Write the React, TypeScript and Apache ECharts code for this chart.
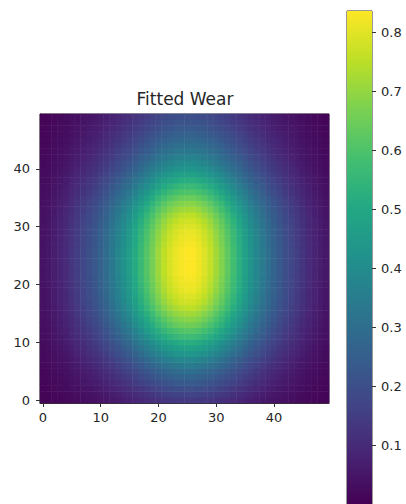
import { useEffect, useRef } from "react";
import * as echarts from "echarts";

// Fitted wear surface: separable profile along x (columns) and y (rows), scaled by the peak wear.
const X_PROFILE = [
  0.05, 0.06, 0.08, 0.1, 0.12, 0.15, 0.18, 0.21, 0.24, 0.27,
  0.31, 0.35, 0.4, 0.45, 0.5, 0.55, 0.61, 0.67, 0.73, 0.79,
  0.85, 0.9, 0.94, 0.97, 0.99, 1.0, 1.0, 0.98, 0.95, 0.91,
  0.86, 0.81, 0.75, 0.69, 0.63, 0.57, 0.51, 0.46, 0.41, 0.36,
  0.32, 0.28, 0.24, 0.21, 0.18, 0.15, 0.12, 0.1, 0.08, 0.06,
];

const Y_PROFILE = [
  0.17, 0.2, 0.24, 0.28, 0.32, 0.36, 0.41, 0.46, 0.52, 0.57,
  0.62, 0.68, 0.73, 0.78, 0.82, 0.86, 0.9, 0.93, 0.95, 0.97,
  0.98, 0.99, 1.0, 1.0, 1.0, 1.0, 1.0, 0.99, 0.98, 0.97,
  0.95, 0.93, 0.9, 0.86, 0.82, 0.77, 0.72, 0.67, 0.62, 0.57,
  0.52, 0.48, 0.44, 0.4, 0.37, 0.34, 0.31, 0.28, 0.26, 0.24,
];

const PEAK_WEAR = 0.836;

const X_CATEGORIES = X_PROFILE.map((_, i) => String(i));
const Y_CATEGORIES = Y_PROFILE.map((_, i) => String(i));

const COLORBAR_TICKS = [0.1, 0.2, 0.3, 0.4, 0.5, 0.6, 0.7, 0.8];

const VIRIDIS = [
  "#440154", "#482475", "#414487", "#355f8d", "#2a788e", "#21918c",
  "#22a884", "#44bf70", "#7ad151", "#bddf26", "#fde725",
];

const FONT = "DejaVu Sans";
const TEXT_COLOR = "#262626";
const LINE_COLOR = "#333333";

export default function App() {
  const ref = useRef<HTMLDivElement>(null);

  useEffect(() => {
    if (!ref.current) return;
    const chart = echarts.init(ref.current, null, { renderer: "svg" });

    const cells: [number, number, number][] = [];
    Y_PROFILE.forEach((fy, yi) => {
      X_PROFILE.forEach((fx, xi) => {
        cells.push([xi, yi, +(PEAK_WEAR * fx * fy).toFixed(4)]);
      });
    });

    const gradientStops = VIRIDIS.map((color, i) => ({
      offset: i / (VIRIDIS.length - 1),
      color,
    }));

    const tickLabel = { color: TEXT_COLOR, fontFamily: FONT, fontSize: 13 };

    chart.setOption({
      animation: false,
      backgroundColor: "#ffffff",
      graphic: [
        {
          type: "text",
          x: 185,
          y: 99,
          style: {
            text: "Fitted Wear",
            fill: TEXT_COLOR,
            font: `17px "${FONT}"`,
            textAlign: "center",
            textVerticalAlign: "middle",
          },
        },
      ],
      grid: [
        {
          left: 40,
          top: 114,
          width: 289,
          height: 289,
          show: true,
          borderColor: LINE_COLOR,
          borderWidth: 1,
          backgroundColor: "transparent",
        },
        {
          left: 347,
          top: 11,
          width: 25,
          height: PEAK_WEAR * 594,
          show: true,
          borderColor: LINE_COLOR,
          borderWidth: 1,
          backgroundColor: "transparent",
        },
      ],
      xAxis: [
        {
          type: "category",
          gridIndex: 0,
          data: X_CATEGORIES,
          axisLine: { show: true, lineStyle: { color: LINE_COLOR } },
          axisTick: {
            show: true,
            alignWithLabel: true,
            interval: 9,
            length: 4,
            lineStyle: { color: LINE_COLOR },
          },
          axisLabel: { ...tickLabel, interval: 9, margin: 8 },
          splitLine: { show: false },
        },
        {
          type: "category",
          gridIndex: 1,
          data: [""],
          show: false,
        },
      ],
      yAxis: [
        {
          type: "category",
          gridIndex: 0,
          data: Y_CATEGORIES,
          axisLine: { show: true, lineStyle: { color: LINE_COLOR } },
          axisTick: {
            show: true,
            alignWithLabel: true,
            interval: 9,
            length: 4,
            lineStyle: { color: LINE_COLOR },
          },
          axisLabel: { ...tickLabel, interval: 9, margin: 10 },
          splitLine: { show: false },
        },
        {
          type: "value",
          gridIndex: 1,
          position: "right",
          min: 0,
          max: PEAK_WEAR,
          interval: 0.1,
          axisLine: { show: false },
          axisTick: {
            show: true,
            length: 4,
            lineStyle: { color: LINE_COLOR },
            customValues: COLORBAR_TICKS,
          },
          axisLabel: {
            ...tickLabel,
            margin: 9,
            customValues: COLORBAR_TICKS,
            formatter: (v: number) => v.toFixed(1),
          },
          splitLine: { show: false },
        },
      ],
      visualMap: {
        type: "continuous",
        show: false,
        min: 0,
        max: PEAK_WEAR,
        seriesIndex: 0,
        inRange: { color: VIRIDIS },
      },
      series: [
        {
          type: "heatmap",
          xAxisIndex: 0,
          yAxisIndex: 0,
          data: cells,
          emphasis: { disabled: true },
          progressive: 0,
        },
        {
          type: "bar",
          xAxisIndex: 1,
          yAxisIndex: 1,
          data: [PEAK_WEAR],
          barWidth: "100%",
          barCategoryGap: 0,
          silent: true,
          itemStyle: {
            color: new echarts.graphic.LinearGradient(0, 1, 0, 0, gradientStops),
          },
        },
      ],
    });

    return () => chart.dispose();
  }, []);

  return (
    <div
      ref={ref}
      style={{ position: "fixed", left: 0, top: 0, width: 406, height: 504 }}
    />
  );
}
